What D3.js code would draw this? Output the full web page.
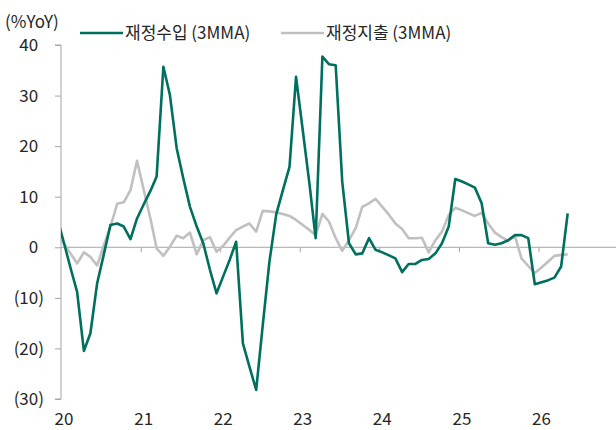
<!DOCTYPE html>
<html>
<head>
<meta charset="utf-8">
<script src="https://cdn.jsdelivr.net/npm/d3@7"></script>
<style>
  body { margin: 0; background: #fff; }
  text { font-family: "Noto Sans CJK KR", "Noto Sans", sans-serif; fill: #262626; }
</style>
</head>
<body>
<svg id="chart" width="616" height="430"></svg>
<script>
// monthly points, Dec 2019 .. May 2026 (first one sits left of the axis and is clipped)
const months = d3.timeMonth.range(new Date(2019, 11, 1), new Date(2026, 5, 1))
  .map(d => new Date(d.getFullYear(), d.getMonth(), 15));

const revenue = [5.7, 0.8, -4.3, -8.8, -20.5, -17, -7.1, -1.5, 4.4, 4.7, 4.1, 1.6, 5.7,
  8.5, 11.2, 14, 35.7, 30.1, 19.6, 13.7, 8.0, 4.1, 0.8, -4.5, -9.1,
  -5.7, -2.3, 1.1, -19, -23.6, -28.2, -15.5, -2.8, 6.5, 11.2, 15.9, 33.7,
  23.1, 12.4, 1.8, 37.7, 36.2, 36.0, 13, 0.8, -1.4, -1.2, 1.8, -0.5,
  -1.0, -1.6, -2.2, -4.9, -3.3, -3.3, -2.5, -2.3, -1.2, 0.8, 4.1, 13.5,
  13.0, 12.4, 11.8, 8.7, 0.8, 0.5, 0.8, 1.4, 2.4, 2.4, 1.8, -7.3,
  -6.9, -6.5, -6.0, -3.8, 6.7];

const spending = [2.7, 0.7, -1.3, -3.2, -1.0, -1.9, -3.6, 0.3, 4.1, 8.6, 8.9, 11.3, 17.1,
  11.3, 5.6, -0.2, -1.7, 0.1, 2.3, 1.8, 2.9, -1.4, 1.4, 2.0, -0.9,
  0.3, 2.0, 3.4, 4.1, 4.7, 3.1, 7.2, 7.1, 6.9, 6.6, 6.2, 5.4,
  4.4, 3.4, 2.4, 6.6, 5.1, 1.8, -0.7, 1.4, 3.8, 8.0, 8.7, 9.6,
  8.0, 6.4, 4.7, 3.6, 1.8, 1.8, 1.9, -1.0, 1.4, 3.1, 6.4, 7.8,
  7.3, 6.7, 6.2, 6.8, 4.7, 2.9, 2.0, 1.3, 2.2, -2.2, -3.7, -5.1,
  -4.0, -2.8, -1.7, -1.5, -1.4];

const yTicks = [40, 30, 20, 10, 0, -10, -20, -30];
const yearTicks = [2020, 2021, 2022, 2023, 2024, 2025, 2026];

const seriesNames = ["재정수입 (3MMA)", "재정지출 (3MMA)"];
const GREEN = "#00705e";
const GREY = "#c0c0c0";
const AXIS = "#a6a6a6";

const svg = d3.select("#chart");

const x = d3.scaleTime()
  .domain([new Date(2020, 0, 1), new Date(2027, 0, 1)])
  .range([61, 618]);
const y = d3.scaleLinear().domain([-30, 40]).range([399, 45]);

svg.append("clipPath").attr("id", "plot")
  .append("rect").attr("x", 61).attr("y", 0).attr("width", 560).attr("height", 430);

// y axis
const yAxis = svg.append("g").attr("transform", "translate(61,0)")
  .call(d3.axisLeft(y).tickValues(yTicks).tickSize(6).tickFormat(() => ""));
yAxis.select(".domain").attr("stroke", AXIS).attr("d", `M-6,${y(40)}H0V${y(-30)}H-6`);
yAxis.selectAll(".tick line").attr("stroke", AXIS);

const parenW = 5.8;
svg.append("g").selectAll("text")
  .data(yTicks)
  .join("text")
  .attr("x", d => d < 0 ? 44 : 44 - parenW)
  .attr("y", d => y(d))
  .attr("dy", "0.36em")
  .attr("text-anchor", "end")
  .style("font-size", "17px")
  .text(d => d < 0 ? `(${-d})` : d);

svg.append("text")
  .attr("x", 5).attr("y", 28)
  .style("font-size", "17px")
  .text("(%YoY)");

// x axis along zero line
const xAxis = svg.append("g").attr("transform", `translate(0,${y(0)})`)
  .call(d3.axisBottom(x)
    .tickValues(yearTicks.slice(1).map(yr => new Date(yr, 0, 1)))
    .tickSize(5).tickFormat(() => ""));
xAxis.select(".domain").attr("stroke", AXIS).attr("d", `M61,0H616`);
xAxis.selectAll(".tick line").attr("stroke", AXIS);

svg.append("g").selectAll("text")
  .data(yearTicks)
  .join("text")
  .attr("x", yr => x(new Date(yr, 0, 1)) + 3)
  .attr("y", 425)
  .attr("text-anchor", "middle")
  .style("font-size", "17px")
  .text(yr => String(yr).slice(2));

// lines
const line = d3.line().x((d, i) => x(months[i])).y(d => y(d));
const plot = svg.append("g").attr("clip-path", "url(#plot)");
plot.append("path").datum(spending)
  .attr("fill", "none").attr("stroke", GREY).attr("stroke-width", 2.6)
  .attr("stroke-linejoin", "round").attr("d", line);
plot.append("path").datum(revenue)
  .attr("fill", "none").attr("stroke", GREEN).attr("stroke-width", 2.6)
  .attr("stroke-linejoin", "round").attr("d", line);

// legend
const legend = svg.append("g");
[[80, GREEN], [281, GREY]].forEach(([lx, col], i) => {
  legend.append("line")
    .attr("x1", lx).attr("x2", lx + 43).attr("y1", 33).attr("y2", 33)
    .attr("stroke", col).attr("stroke-width", 2.6);
  legend.append("text")
    .attr("x", lx + 45).attr("y", 33).attr("dy", "0.36em")
    .style("font-size", "17px")
    .text(seriesNames[i]);
});
</script>
</body>
</html>
